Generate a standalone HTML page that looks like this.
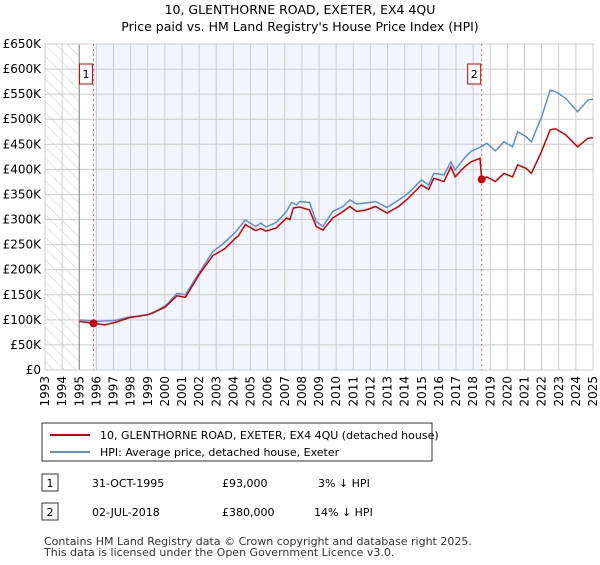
<!DOCTYPE html>
<html><head><meta charset="utf-8"><style>
body{margin:0;background:#fff;font-family:"Liberation Sans","DejaVu Sans",sans-serif;}
svg text{font-family:"DejaVu Sans","Liberation Sans",sans-serif;}
</style></head><body>
<svg id="chart" width="600" height="560" viewBox="0 0 600 560" xmlns="http://www.w3.org/2000/svg">
<defs><pattern id="hatch" width="8" height="8" patternUnits="userSpaceOnUse" patternTransform="rotate(-45)"><line x1="0" y1="0" x2="0" y2="8" stroke="#ccc" stroke-width="1"/></pattern></defs>
<text x="300" y="14" text-anchor="middle" font-size="12.5" fill="#000">10, GLENTHORNE ROAD, EXETER, EX4 4QU</text>
<text x="300" y="31" text-anchor="middle" font-size="12.5" fill="#000">Price paid vs. HM Land Registry's House Price Index (HPI)</text>
<g id="plot"></g>
<g>
<rect x="42" y="423" width="390" height="38" fill="#fff" stroke="#333" stroke-width="1"/>
<line x1="50" y1="435" x2="90" y2="435" stroke="#cc0000" stroke-width="2"/>
<text x="100" y="439" font-size="11">10, GLENTHORNE ROAD, EXETER, EX4 4QU (detached house)</text>
<line x1="50" y1="452" x2="90" y2="452" stroke="#5b8fd6" stroke-width="2"/>
<text x="100" y="456" font-size="11">HPI: Average price, detached house, Exeter</text>
</g>
<g font-size="11">
<rect x="42" y="474" width="16" height="17" fill="#fff" stroke="#333"/><text x="50" y="487" text-anchor="middle">1</text>
<text x="92" y="487">31-OCT-1995</text><text x="222" y="487">£93,000</text><text x="318" y="487">3% ↓ HPI</text>
<rect x="42" y="503" width="16" height="17" fill="#fff" stroke="#333"/><text x="50" y="516" text-anchor="middle">2</text>
<text x="92" y="516">02-JUL-2018</text><text x="222" y="516">£380,000</text><text x="314" y="516">14% ↓ HPI</text>
</g>
<text x="44" y="545" font-size="11" fill="#333">Contains HM Land Registry data © Crown copyright and database right 2025.</text>
<text x="44" y="556" font-size="11" fill="#333">This data is licensed under the Open Government Licence v3.0.</text>
</svg>
<script>
const hpiYears=[1995.0,1996.2,1997.1,1997.8,1998.6,1999.3,2000.1,2000.7,2001.2,2002.1,2002.8,2003.3,2004.1,2004.7,2005.3,2005.6,2005.9,2006.5,2007.1,2007.4,2007.7,2007.87,2008.45,2008.84,2009.23,2009.8,2010.4,2010.8,2011.2,2011.75,2012.3,2012.97,2013.65,2014.2,2014.98,2015.4,2015.7,2016.3,2016.7,2016.95,2017.5,2017.87,2018.4,2018.8,2019.3,2019.8,2020.3,2020.6,2021.1,2021.4,2022.0,2022.5,2022.8,2023.4,2024.1,2024.7,2025.0];
const hpiValues=[100,97,99,105,108,113,130,153,150,199,236,249,274,299,286,293,285,294,316,334,329,336,334,296,286,316,326,339,331,333,336,324,339,352,379,369,392,389,415,399,423,436,444,452,437,455,445,475,465,455,505,558,555,542,515,538,540];
const priceYears=[1995.0,1995.83,1996.5,1997.1,1998.0,1999.0,2000.0,2000.7,2001.2,2002.0,2002.8,2003.5,2004.1,2004.3,2004.7,2005.3,2005.6,2005.9,2006.5,2007.1,2007.3,2007.5,2007.87,2008.45,2008.84,2009.23,2009.8,2010.4,2010.8,2011.2,2011.75,2012.3,2012.97,2013.65,2014.2,2014.98,2015.4,2015.7,2016.3,2016.7,2016.95,2017.5,2017.87,2018.4,2018.5,2018.8,2019.3,2019.8,2020.3,2020.6,2021.1,2021.4,2022.0,2022.5,2022.8,2023.4,2024.1,2024.7,2025.0];
const priceValues=[97,93,90,95,105,110,125,148,145,190,228,242,262,268,290,278,282,277,283,303,300,323,325,319,286,279,303,316,326,316,319,326,313,326,342,369,360,382,376,405,385,405,415,422,380,385,376,392,385,409,402,392,436,479,481,469,445,462,463];
const saleYears=[1995.83,2018.5];
const saleValues=[93,380];
const saleLabels=["1","2"];
const yTicks=[0,50,100,150,200,250,300,350,400,450,500,550,600,650];
const yTickLabels=["£0","£50K","£100K","£150K","£200K","£250K","£300K","£350K","£400K","£450K","£500K","£550K","£600K","£650K"];
const xTicks=[1993,1994,1995,1996,1997,1998,1999,2000,2001,2002,2003,2004,2005,2006,2007,2008,2009,2010,2011,2012,2013,2014,2015,2016,2017,2018,2019,2020,2021,2022,2023,2024,2025];

const X0=45,X1=593,Y0=370,Y1=44;
const xs=y=>X0+(y-1993)/(2025-1993)*(X1-X0);
const ys=v=>Y0-v/650*(Y0-Y1);
const NS="http://www.w3.org/2000/svg";
const plot=document.getElementById('plot');
function mk(tag,attrs,parent){const e=document.createElementNS(NS,tag);for(const k in attrs)e.setAttribute(k,attrs[k]);(parent||plot).appendChild(e);return e;}

let r=mk('rect',{x:xs(1993),y:Y1,width:xs(1995)-xs(1993),height:Y0-Y1,fill:'url(#hatch)'});


r=mk('rect',{x:xs(1995),y:Y1,width:xs(2025)-xs(1995),height:Y0-Y1,fill:'#fff'});
r=mk('rect',{x:xs(saleYears[0]),y:Y1,width:xs(saleYears[1])-xs(saleYears[0]),height:Y0-Y1,fill:'#f1f5fd'});



yTicks.forEach((v,i)=>{
  mk('line',{x1:X0,x2:X1,y1:ys(v),y2:ys(v),stroke:'#ccc','stroke-width':1});
  const t=mk('text',{x:X0-4,y:ys(v)+4,'text-anchor':'end','font-size':12,fill:'#000'});
  
  
  t.textContent=yTickLabels[i];
});
xTicks.forEach(yr=>{
  mk('line',{x1:xs(yr),x2:xs(yr),y1:Y1,y2:Y0,stroke:'#ccc','stroke-width':1});
  const t=mk('text',{x:0,y:0,'text-anchor':'end','font-size':12,fill:'#000',transform:`translate(${xs(yr)+4},${Y0+6}) rotate(-90)`});
  
  
  t.textContent=yr;
});
mk('line',{x1:xs(1995),x2:xs(1995),y1:Y1,y2:Y0,stroke:'#888','stroke-width':1});
mk('rect',{x:X0,y:Y1,width:X1-X0,height:Y0-Y1,fill:'none',stroke:'#ccc'});

saleYears.forEach((yr,i)=>{
  const l=mk('line',{x1:xs(yr),x2:xs(yr),y1:Y1,y2:Y0,stroke:'#e66','stroke-width':1,'stroke-dasharray':'2,3'});
  
  
  const b=mk('rect',{x:xs(yr)-14,y:64,width:13,height:20,fill:'#fff',stroke:'#cc0000'});
  
  
  const t=mk('text',{x:xs(yr)-7.5,y:78,'text-anchor':'middle','font-size':11});
  t.textContent=saleLabels[i];
});

const hp=mk('polyline',{points:hpiYears.map((y,i)=>xs(y)+','+ys(hpiValues[i])).join(' '),fill:'none',stroke:'#5b8fd6','stroke-width':1.5});


const pp=mk('polyline',{points:priceYears.map((y,i)=>xs(y)+','+ys(priceValues[i])).join(' '),fill:'none',stroke:'#cc0000','stroke-width':1.5});


saleYears.forEach((yr,i)=>{
  const c=mk('circle',{cx:xs(yr),cy:ys(saleValues[i]),r:4,fill:'#cc0000'});
  
  
});
</script>
</body></html>
